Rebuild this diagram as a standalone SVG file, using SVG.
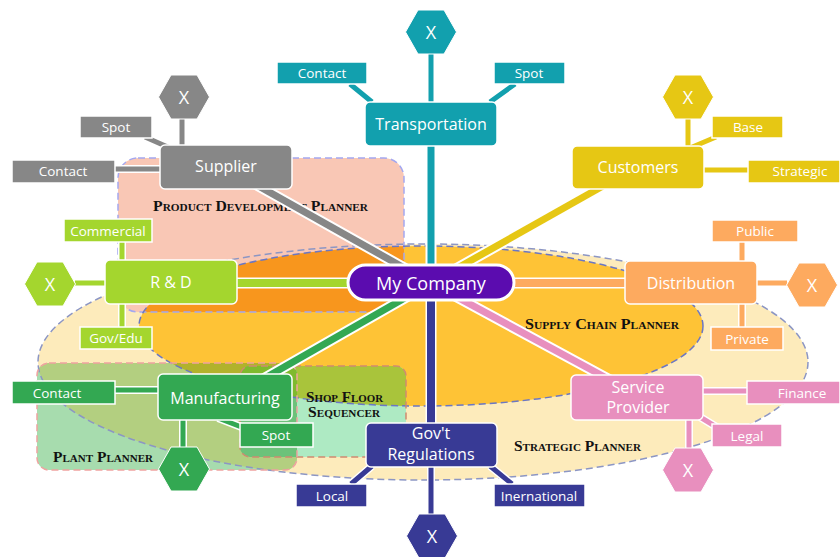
<svg xmlns="http://www.w3.org/2000/svg" width="840" height="557" viewBox="0 0 840 557">
<style>
.lbl{font-family:"Open Sans","Liberation Sans",sans-serif;fill:#fff;text-anchor:middle;dominant-baseline:central}
.big{font-size:16px}
.sm{font-size:13.5px}
.x{font-size:18px}
.reg{font-family:"Liberation Serif",serif;font-weight:bold;font-variant:small-caps;font-size:14px;fill:#111}
.box{stroke:#fff;stroke-width:1.5}
.halo{fill:none;stroke:#fff;stroke-linecap:butt}
.ln{fill:none;stroke-linecap:butt}
.dash{fill:none;stroke-width:1.5;stroke-dasharray:7 4}
</style>
<defs>
<polygon id="hex" points="-25.5,0 -13,-22 13,-22 25.5,0 13,22 -13,22" stroke="#fff" stroke-width="1"/>
<clipPath id="cStrat"><ellipse cx="423" cy="362" rx="385" ry="118"/></clipPath>
<clipPath id="cPink"><rect x="118" y="158" width="286" height="154" rx="20"/></clipPath>
<clipPath id="cSupply"><ellipse cx="421" cy="326" rx="282" ry="80"/></clipPath>
<clipPath id="cPlant"><rect x="37" y="363" width="260" height="107" rx="12"/></clipPath>
<clipPath id="cShop"><rect x="240" y="366" width="166" height="91" rx="10"/></clipPath>
</defs>
<rect width="840" height="557" fill="#fff"/>
<g id="regions">
<ellipse cx="423" cy="362" rx="385" ry="118" fill="#fdebbb"/>
<rect x="118" y="158" width="286" height="154" rx="20" fill="#f9c7b5"/>
<ellipse cx="421" cy="326" rx="282" ry="80" fill="#fec336"/>
<g clip-path="url(#cPink)"><ellipse cx="421" cy="326" rx="282" ry="80" fill="#f8961d"/></g>
<rect x="240" y="366" width="166" height="91" rx="10" fill="#aeeac3"/>
<g clip-path="url(#cShop)"><ellipse cx="421" cy="326" rx="282" ry="80" fill="#a9c43b"/></g>
<rect x="37" y="363" width="260" height="107" rx="12" fill="#a7dcae"/>
<g clip-path="url(#cPlant)">
<ellipse cx="423" cy="362" rx="385" ry="118" fill="#b3cf80"/>
<ellipse cx="421" cy="326" rx="282" ry="80" fill="#b1b22c"/>
<rect x="240" y="366" width="166" height="91" rx="10" fill="#6cc27a"/>
<g clip-path="url(#cShop)"><ellipse cx="421" cy="326" rx="282" ry="80" fill="#7fba2e"/></g>
</g>
<ellipse class="dash" cx="423" cy="362" rx="385" ry="118" stroke="#8c96c4"/>
<rect class="dash" x="118" y="158" width="286" height="154" rx="20" stroke="#a4a8f0"/>
<ellipse class="dash" cx="421" cy="326" rx="282" ry="80" stroke="#6b77c4"/>
<rect class="dash" x="240" y="366" width="166" height="91" rx="10" stroke="#cf8b70"/>
<rect class="dash" x="37" y="363" width="260" height="107" rx="12" stroke="#f0a2a0"/>
<text class="reg" x="153" y="211" textLength="215" lengthAdjust="spacingAndGlyphs">Product Development Planner</text>
<text class="reg" x="525" y="329" textLength="154" lengthAdjust="spacingAndGlyphs">Supply Chain Planner</text>
<text class="reg" x="306" y="402" textLength="77" lengthAdjust="spacingAndGlyphs">Shop Floor</text>
<text class="reg" x="308" y="417" textLength="72" lengthAdjust="spacingAndGlyphs">Sequencer</text>
<text class="reg" x="53" y="462" textLength="100" lengthAdjust="spacingAndGlyphs">Plant Planner</text>
<text class="reg" x="514" y="451" textLength="127" lengthAdjust="spacingAndGlyphs">Strategic Planner</text>
</g>
<g id="connectors">
<path class="halo" stroke-width="11" d="M431,283 L255,184 M431,283 L610,182 M431,283 L258,382 M431,283 L612,381 M431,146 L431,283 L431,423 M237,283 L625,283"/>
<path class="halo" stroke-width="8" d="M350,84 L372,102 M515,84 L490,102 M431,54 L431,102 M182,119 L182,145 M145,137 L170,148 M115,169 L160,169 M688,119 L688,146 M716,137 L690,148 M704,170 L748,170 M122,242 L122,260 M122,304 L122,327 M75,283 L105,283 M742,242 L742,261 M742,304 L742,327 M757,283 L787,283 M115,390 L158,390 M218,418 L244,428 M183,420 L183,447 M703,391 L747,391 M700,417 L718,428 M689,420 L689,448 M372,466 L351,484 M490,466 L512,484 M431,466 L431,514"/>
<path class="ln" stroke="#878787" stroke-width="7" d="M431,283 L255,184"/>
<path class="ln" stroke="#e6c714" stroke-width="7" d="M431,283 L610,182"/>
<path class="ln" stroke="#33a852" stroke-width="7" d="M431,283 L258,382"/>
<path class="ln" stroke="#e88fbe" stroke-width="7" d="M431,283 L612,381"/>
<path class="ln" stroke="#12a0ae" stroke-width="7" d="M431,146 L431,283"/>
<path class="ln" stroke="#383a95" stroke-width="8" d="M431,283 L431,423"/>
<path class="ln" stroke="#a4d62e" stroke-width="8" d="M237,283 L431,283"/>
<path class="ln" stroke="#fdaa5f" stroke-width="8" d="M431,283 L625,283"/>
<path class="ln" stroke="#12a0ae" stroke-width="5" d="M350,84 L372,102 M515,84 L490,102 M431,54 L431,102"/>
<path class="ln" stroke="#878787" stroke-width="5" d="M182,119 L182,145 M145,137 L170,148 M115,169 L160,169"/>
<path class="ln" stroke="#e6c714" stroke-width="5" d="M688,119 L688,146 M716,137 L690,148 M704,170 L748,170"/>
<path class="ln" stroke="#a4d62e" stroke-width="5" d="M122,242 L122,260 M122,304 L122,327 M75,283 L105,283"/>
<path class="ln" stroke="#fdaa5f" stroke-width="5" d="M742,242 L742,261 M742,304 L742,327 M757,283 L787,283"/>
<path class="ln" stroke="#33a852" stroke-width="5" d="M115,390 L158,390 M218,418 L244,428 M183,420 L183,447"/>
<path class="ln" stroke="#e88fbe" stroke-width="5" d="M703,391 L747,391 M700,417 L718,428 M689,420 L689,448"/>
<path class="ln" stroke="#383a95" stroke-width="5" d="M372,466 L351,484 M490,466 L512,484 M431,466 L431,514"/>
</g>
<g id="transportation" fill="#12a0ae">
<rect class="box" x="365" y="102" width="132" height="44" rx="5"/>
<text class="lbl big" x="431" y="124">Transportation</text>
<rect class="box" x="277" y="62" width="90" height="22"/><text class="lbl sm" x="322" y="73">Contact</text>
<rect class="box" x="494" y="62" width="71" height="22"/><text class="lbl sm" x="529" y="73">Spot</text>
<use href="#hex" transform="translate(431,32)"/><text class="lbl x" x="431" y="32">X</text>
</g>
<g id="supplier" fill="#878787">
<rect class="box" x="160" y="145" width="132" height="44" rx="5"/>
<text class="lbl big" x="226" y="166">Supplier</text>
<rect class="box" x="80" y="116" width="72" height="22"/><text class="lbl sm" x="116" y="127">Spot</text>
<rect class="box" x="12" y="160" width="103" height="23"/><text class="lbl sm" x="63" y="171">Contact</text>
<use href="#hex" transform="translate(184,97)"/><text class="lbl x" x="184" y="97">X</text>
</g>
<g id="customers" fill="#e6c714">
<rect class="box" x="572" y="146" width="132" height="43" rx="5"/>
<text class="lbl big" x="638" y="167">Customers</text>
<rect class="box" x="712" y="116" width="71" height="22"/><text class="lbl sm" x="748" y="127">Base</text>
<rect class="box" x="748" y="160" width="92" height="23"/><text class="lbl sm" x="800" y="171">Strategic</text>
<use href="#hex" transform="translate(688,97)"/><text class="lbl x" x="688" y="97">X</text>
</g>
<g id="rnd" fill="#a4d62e">
<rect class="box" x="105" y="260" width="132" height="44" rx="5"/>
<text class="lbl big" x="171" y="282">R &amp; D</text>
<rect class="box" x="64" y="219" width="88" height="23"/><text class="lbl sm" x="108" y="231">Commercial</text>
<rect class="box" x="80" y="327" width="72" height="22"/><text class="lbl sm" x="116" y="338">Gov/Edu</text>
<use href="#hex" transform="translate(50,284)"/><text class="lbl x" x="50" y="284">X</text>
</g>
<g id="distribution" fill="#fdaa5f">
<rect class="box" x="625" y="261" width="132" height="43" rx="5"/>
<text class="lbl big" x="691" y="283">Distribution</text>
<rect class="box" x="712" y="220" width="86" height="22"/><text class="lbl sm" x="755" y="231">Public</text>
<rect class="box" x="711" y="327" width="72" height="23"/><text class="lbl sm" x="747" y="339">Private</text>
<use href="#hex" transform="translate(812,285)"/><text class="lbl x" x="812" y="285">X</text>
</g>
<g id="manufacturing" fill="#33a852">
<rect class="box" x="158" y="374" width="134" height="46" rx="5"/>
<text class="lbl big" x="225" y="398">Manufacturing</text>
<rect class="box" x="12" y="381" width="103" height="23"/><text class="lbl sm" x="57" y="393">Contact</text>
<rect class="box" x="240" y="423" width="73" height="24"/><text class="lbl sm" x="276" y="435">Spot</text>
<use href="#hex" transform="translate(184,469)"/><text class="lbl x" x="184" y="469">X</text>
</g>
<g id="service" fill="#e88fbe">
<rect class="box" x="571" y="375" width="132" height="45" rx="5"/>
<text class="lbl big" x="638" y="387">Service</text>
<text class="lbl big" x="638" y="407">Provider</text>
<rect class="box" x="747" y="381" width="93" height="23"/><text class="lbl sm" x="802" y="393">Finance</text>
<rect class="box" x="712" y="424" width="70" height="23"/><text class="lbl sm" x="747" y="436">Legal</text>
<use href="#hex" transform="translate(688,470)"/><text class="lbl x" x="688" y="470">X</text>
</g>
<g id="govt" fill="#383a95">
<rect class="box" x="366" y="423" width="131" height="44" rx="5"/>
<text class="lbl big" x="431" y="433">Gov't</text>
<text class="lbl big" x="431" y="454">Regulations</text>
<rect class="box" x="296" y="484" width="71" height="23"/><text class="lbl sm" x="332" y="496">Local</text>
<rect class="box" x="494" y="484" width="91" height="23"/><text class="lbl sm" x="539" y="496">Inernational</text>
<use href="#hex" transform="translate(432,536)"/><text class="lbl x" x="432" y="536">X</text>
</g>
<g id="mycompany">
<rect x="348" y="265" width="166" height="35" rx="17.5" fill="#5b0caf" stroke="#fff" stroke-width="3"/>
<text class="lbl" style="font-size:18px" x="431" y="283">My Company</text>
</g>
</svg>
